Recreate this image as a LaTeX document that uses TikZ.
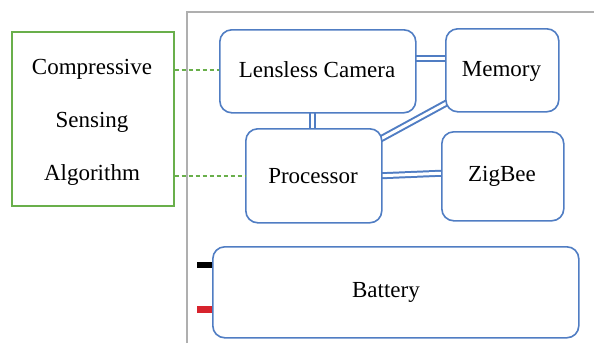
\documentclass[tikz,border=0pt]{standalone}
\usepackage{fontspec}
\setmainfont{Liberation Serif}
\newfontfamily\tnr{Liberation Serif}
\definecolor{boxblue}{RGB}{80,125,195}
\definecolor{boxgreen}{RGB}{105,175,75}
\definecolor{framegray}{RGB}{175,175,175}
\definecolor{tabred}{RGB}{215,35,45}
\begin{document}
\begin{tikzpicture}[x=1pt,y=-1pt,
  blk/.style={draw=boxblue,line width=1.6pt,rounded corners=12pt,fill=white},
  lbl/.style={font=\tnr\fontsize{23}{27}\selectfont},
  link/.style={draw=boxblue,line width=2pt,double=white,double distance=3pt},
  dashlink/.style={draw=boxgreen,line width=1.2pt,dash pattern=on 4pt off 3pt},
  every node/.style={inner sep=0pt}]
\useasboundingbox (0,0) rectangle (594,343);
% frame
\draw[framegray,line width=1.5pt] (187,343) -- (187,12) -- (594,12);
% links (drawn first, ends hidden under the blocks)
\draw[link] (410,58) -- (450,58);
\draw[link] (312,106) -- (312,134);
\draw[link] (452,100) -- (375,142);
\draw[link] (375,176) -- (447,173);
% green box
\node[draw=boxgreen,line width=1.6pt,minimum width=162pt,minimum height=174pt,anchor=north west] (alg) at (11,31) {};
\node[align=center,font=\tnr\fontsize{23}{53}\selectfont] at (92,122) {Compressive\\Sensing\\Algorithm};
% blocks
\node[blk,minimum width=196pt,minimum height=83pt,anchor=north west] (cam) at (219,29) {};
\node[lbl] at (317,70) {Lensless Camera};
\node[blk,minimum width=113pt,minimum height=83pt,anchor=north west] (mem) at (445,28) {};
\node[lbl] at (501.5,71) {Memory};
\node[blk,minimum width=136pt,minimum height=94pt,anchor=north west] (proc) at (245,128) {};
\node[lbl] at (313,176) {Processor};
\node[blk,minimum width=122pt,minimum height=89pt,anchor=north west] (zig) at (441,131) {};
\node[lbl] at (502,176) {ZigBee};
\node[blk,minimum width=366pt,minimum height=91pt,anchor=north west] (bat) at (212,246) {};
\node[lbl] at (386,292) {Battery};
% terminals
\fill[black] (197,262) rectangle (212,268);
\fill[tabred] (197,306) rectangle (212,313);
% dashed
\draw[dashlink] (alg.east |- 0,70) -- (cam.west |- 0,70);
\draw[dashlink] (alg.east |- 0,176) -- (proc.west |- 0,176);
\end{tikzpicture}
\end{document}
